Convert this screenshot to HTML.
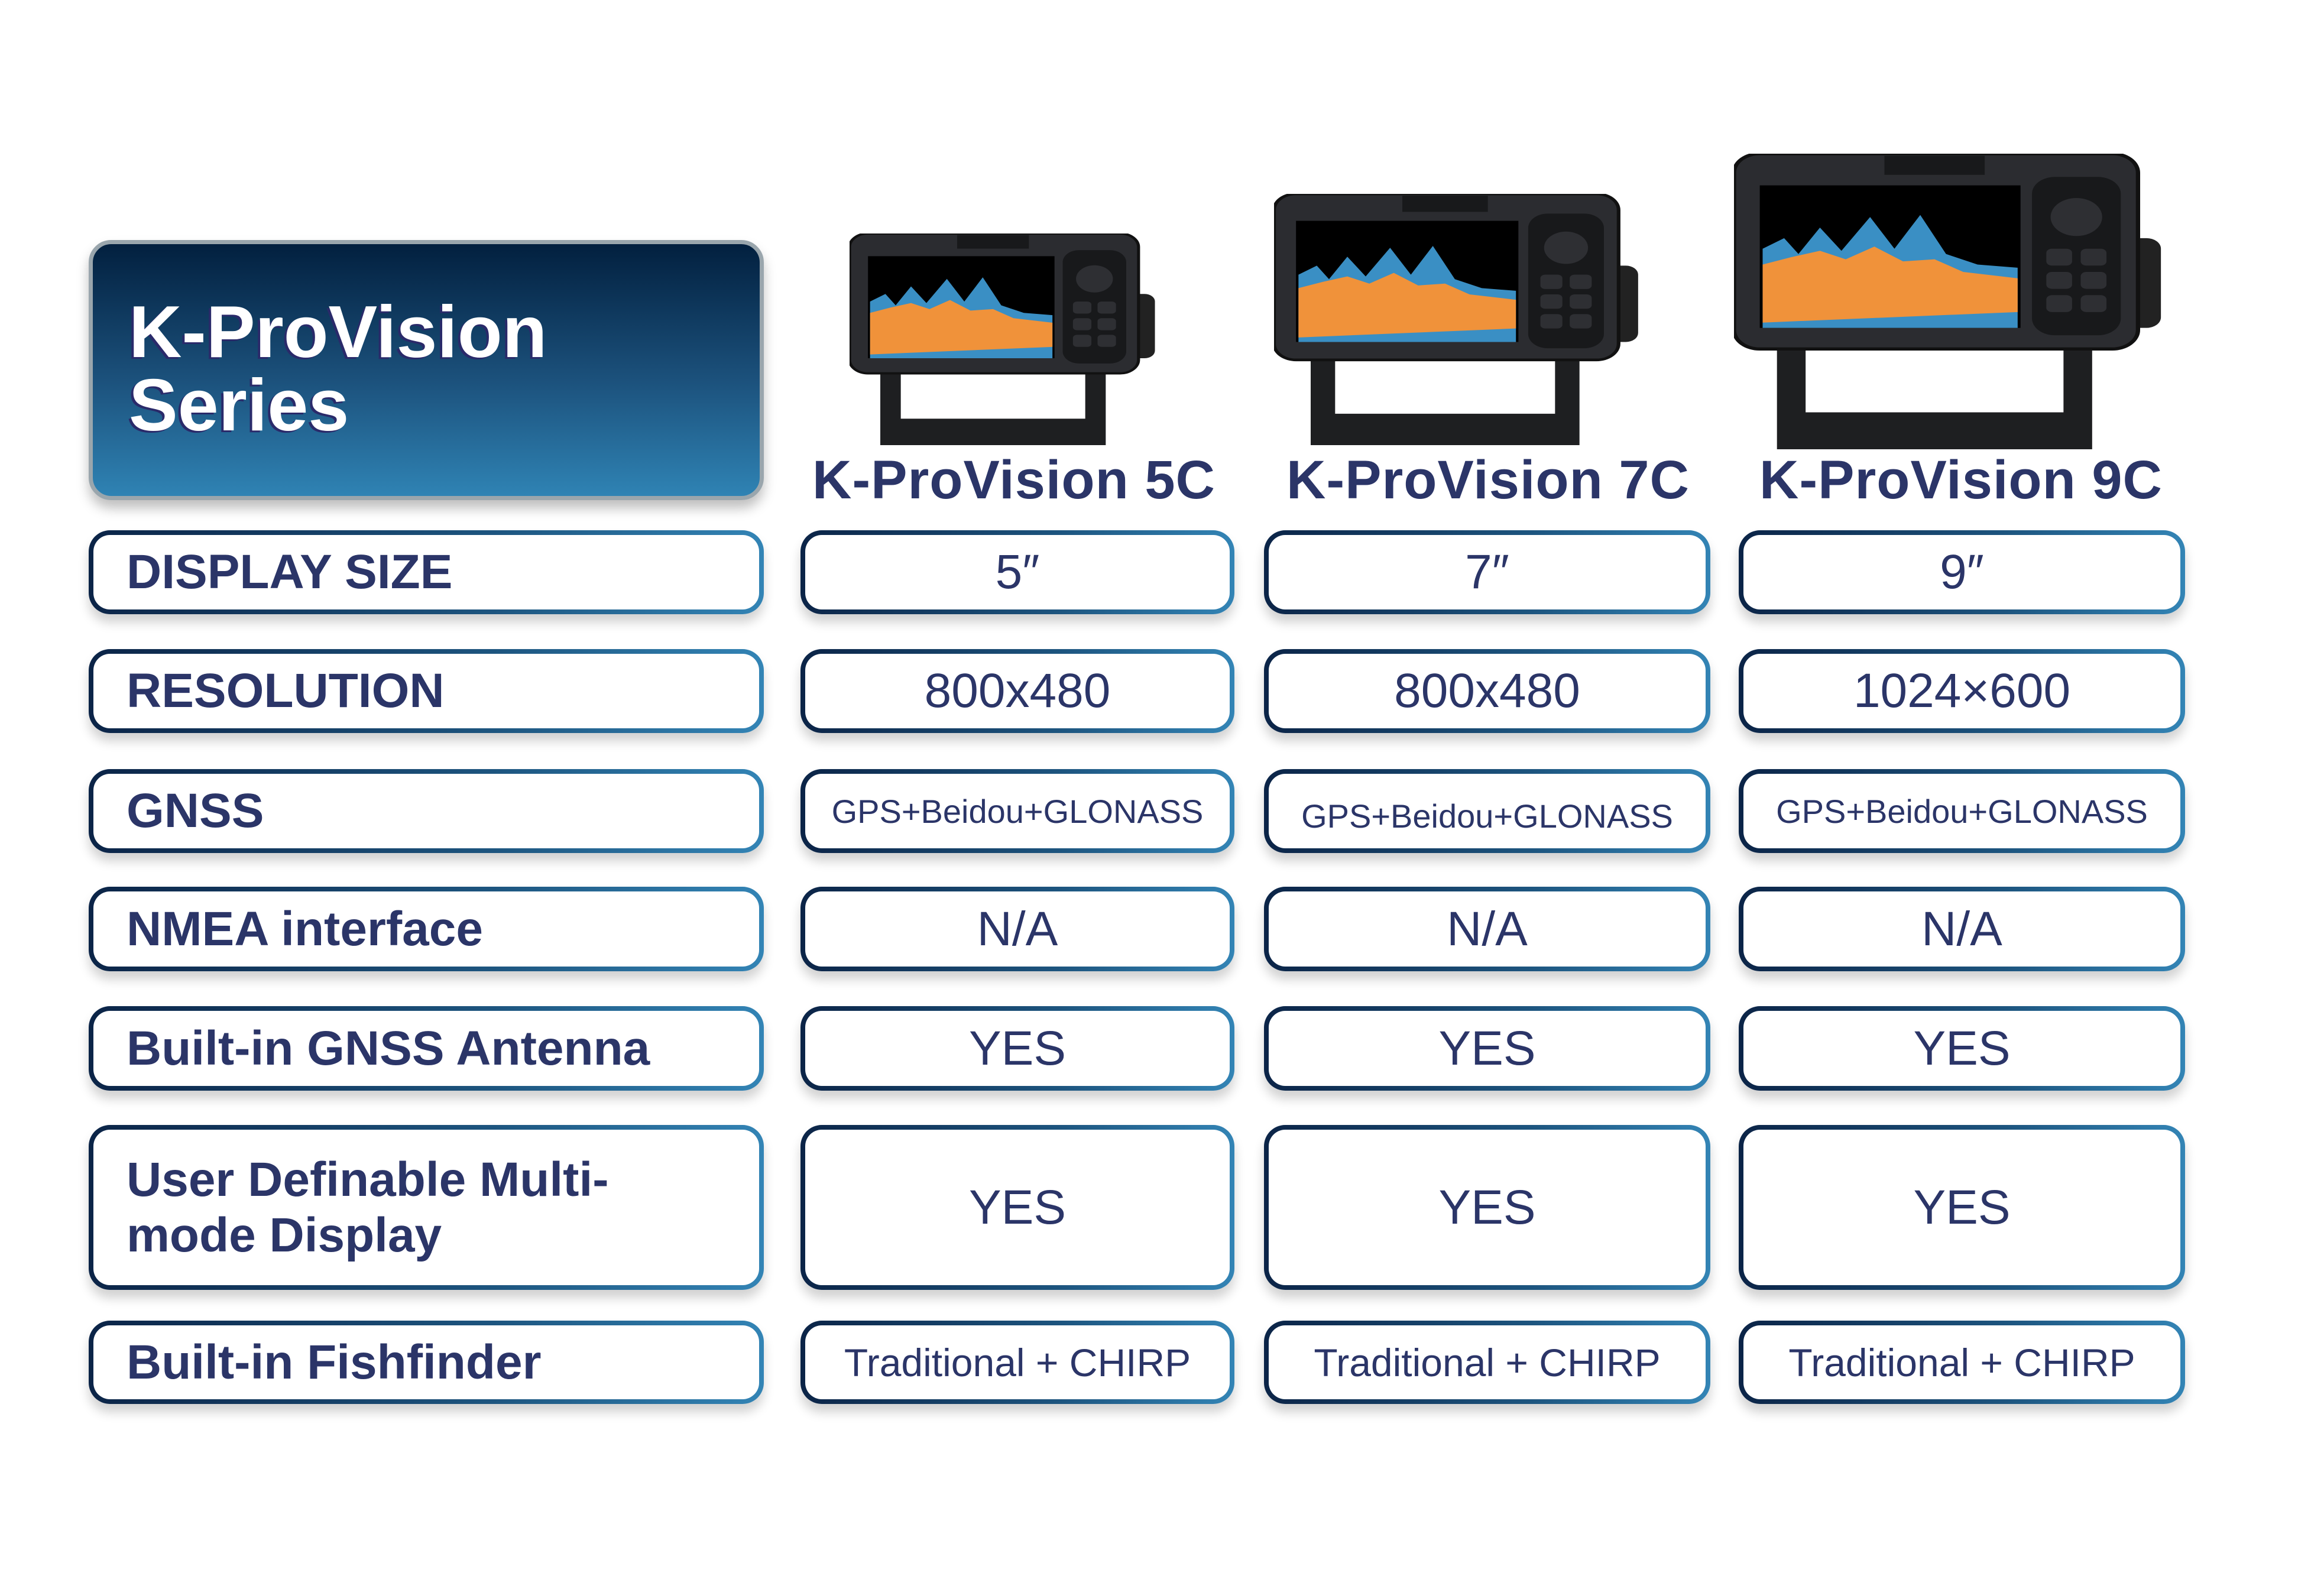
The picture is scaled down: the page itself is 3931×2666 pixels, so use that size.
<!DOCTYPE html>
<html><head><meta charset="utf-8"><style>
html,body{margin:0;padding:0;background:#fff}
body{width:3931px;height:2666px;position:relative;overflow:hidden;font-family:"Liberation Sans",sans-serif}
.b{position:absolute;box-sizing:border-box;border:8px solid transparent;border-radius:36px;
background:linear-gradient(#fff,#fff) padding-box,linear-gradient(90deg,#0b2447,#1d557f 60%,#3384b5) border-box;
box-shadow:0 14px 18px rgba(0,0,0,0.18);display:flex;align-items:center;color:#2b3568}
.l{left:150px;width:1142px;padding-left:56px;font-weight:bold;font-size:82px}
.v{justify-content:center;font-size:82px}
.c1{left:1354px;width:734px}.c2{left:2138px;width:755px}.c3{left:2941px;width:755px}
.g{font-size:56px}
.h{position:absolute;top:760px;font-weight:bold;font-size:92px;color:#2b3568;white-space:nowrap;letter-spacing:1px}
</style></head><body>
<div style="position:absolute;left:150px;top:406px;width:1142px;height:440px;box-sizing:border-box;border:7px solid #9aa6ad;border-radius:38px;background:linear-gradient(#02203f,#1c527d 55%,#2f83b4);box-shadow:0 14px 20px rgba(0,0,0,0.25)"></div>
<div style="position:absolute;left:218px;top:500px;color:#fff;font-weight:bold;font-size:124px;line-height:124px;text-shadow:-4px 3px 0 #2a2a6a">K-ProVision<br>Series</div>

<svg style="position:absolute;left:1437px;top:395px" width="520" height="358" viewBox="0 0 300 280" preserveAspectRatio="none">
<g id="m">
<path d="M30 120H250V280H30Z M50 120V245H230V120Z" fill="#1e1f21" fill-rule="evenodd"/>
<rect x="268" y="80" width="30" height="85" rx="10" fill="#222"/>
<rect x="0" y="0" width="282" height="185" rx="18" fill="#2b2c30" stroke="#111" stroke-width="3"/>
<rect x="105" y="2" width="70" height="18" fill="#18191b"/>
<rect x="18" y="30" width="182" height="135" fill="#000"/>
<path d="M20 165V90L35 80L45 95L60 70L75 92L95 60L112 90L130 58L148 95L170 105L198 108V165Z" fill="#3a8fc4"/>
<path d="M20 160V105L40 98L60 92L78 100L98 88L118 102L140 100L160 112L198 118V150L20 160Z" fill="#f0923a"/>
<rect x="208" y="22" width="62" height="150" rx="16" fill="#18191b"/>
<circle cx="239" cy="60" r="18" fill="#2e2f33"/>
<rect x="218" y="90" width="18" height="16" rx="4" fill="#2e2f33"/><rect x="242" y="90" width="18" height="16" rx="4" fill="#2e2f33"/>
<rect x="218" y="112" width="18" height="16" rx="4" fill="#2e2f33"/><rect x="242" y="112" width="18" height="16" rx="4" fill="#2e2f33"/>
<rect x="218" y="134" width="18" height="16" rx="4" fill="#2e2f33"/><rect x="242" y="134" width="18" height="16" rx="4" fill="#2e2f33"/>
</g></svg>
<svg style="position:absolute;left:2155px;top:328px" width="620" height="425" viewBox="0 0 300 280" preserveAspectRatio="none"><use href="#m"/></svg>
<svg style="position:absolute;left:2933px;top:260px" width="727" height="500" viewBox="0 0 300 280" preserveAspectRatio="none"><use href="#m"/></svg>

<div class="h" style="left:1374px">K-ProVision 5C</div>
<div class="h" style="left:2176px">K-ProVision 7C</div>
<div class="h" style="left:2976px">K-ProVision 9C</div>

<div class="b l" style="top:897px;height:142px">DISPLAY SIZE</div>
<div class="b v c1" style="top:897px;height:142px">5″</div>
<div class="b v c2" style="top:897px;height:142px">7″</div>
<div class="b v c3" style="top:897px;height:142px">9″</div>

<div class="b l" style="top:1098px;height:142px">RESOLUTION</div>
<div class="b v c1" style="top:1098px;height:142px">800x480</div>
<div class="b v c2" style="top:1098px;height:142px">800x480</div>
<div class="b v c3" style="top:1098px;height:142px">1024×600</div>

<div class="b l" style="top:1301px;height:142px">GNSS</div>
<div class="b v g c1" style="top:1301px;height:142px">GPS+Beidou+GLONASS</div>
<div class="b v g c2" style="top:1301px;height:142px;padding-top:16px">GPS+Beidou+GLONASS</div>
<div class="b v g c3" style="top:1301px;height:142px">GPS+Beidou+GLONASS</div>

<div class="b l" style="top:1500px;height:143px">NMEA interface</div>
<div class="b v c1" style="top:1500px;height:143px">N/A</div>
<div class="b v c2" style="top:1500px;height:143px">N/A</div>
<div class="b v c3" style="top:1500px;height:143px">N/A</div>

<div class="b l" style="top:1702px;height:143px">Built-in GNSS Antenna</div>
<div class="b v c1" style="top:1702px;height:143px">YES</div>
<div class="b v c2" style="top:1702px;height:143px">YES</div>
<div class="b v c3" style="top:1702px;height:143px">YES</div>

<div class="b l" style="top:1903px;height:279px;line-height:94px">User Definable Multi-<br>mode Display</div>
<div class="b v c1" style="top:1903px;height:279px">YES</div>
<div class="b v c2" style="top:1903px;height:279px">YES</div>
<div class="b v c3" style="top:1903px;height:279px">YES</div>

<div class="b l" style="top:2234px;height:141px">Built-in Fishfinder</div>
<div class="b v c1" style="top:2234px;height:141px;font-size:66px">Traditional + CHIRP</div>
<div class="b v c2" style="top:2234px;height:141px;font-size:66px">Traditional + CHIRP</div>
<div class="b v c3" style="top:2234px;height:141px;font-size:66px">Traditional + CHIRP</div>
</body></html>
